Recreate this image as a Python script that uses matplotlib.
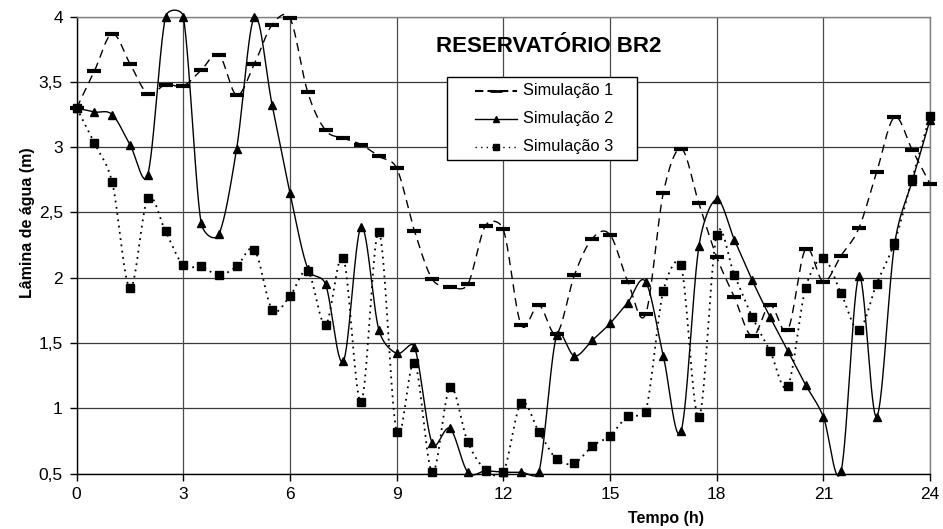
import numpy as np
import matplotlib
matplotlib.use("Agg")
import matplotlib.pyplot as plt
from matplotlib.patches import Rectangle

plt.rcParams['font.family'] = ['Liberation Sans', 'DejaVu Sans']

hours = [0, 0.5, 1, 1.5, 2, 2.5, 3, 3.5, 4, 4.5, 5, 5.5, 6, 6.5, 7, 7.5, 8, 8.5,
         9, 9.5, 10, 10.5, 11, 11.5, 12, 12.5, 13, 13.5, 14, 14.5, 15, 15.5, 16,
         16.5, 17, 17.5, 18, 18.5, 19, 19.5, 20, 20.5, 21, 21.5, 22, 22.5, 23,
         23.5, 24]

sim1 = [3.30, 3.585, 3.87, 3.64, 3.41, 3.48, 3.47, 3.59, 3.71, 3.40, 3.64, 3.94,
        3.99, 3.42, 3.13, 3.07, 3.02, 2.93, 2.84, 2.36, 1.99, 1.93, 1.95, 2.40,
        2.37, 1.64, 1.79, 1.57, 2.02, 2.30, 2.33, 1.97, 1.72, 2.65, 2.99, 2.57,
        2.16, 1.85, 1.55, 1.79, 1.60, 2.22, 1.97, 2.17, 2.38, 2.81, 3.23, 2.98,
        2.72]

sim2 = [3.30, 3.27, 3.25, 3.02, 2.79, 4.00, 4.00, 2.42, 2.335, 2.99, 4.00, 3.32,
        2.65, 2.07, 1.95, 1.36, 2.39, 1.60, 1.42, 1.47, 0.73, 0.845, 0.51, 0.52,
        0.51, 0.51, 0.51, 1.56, 1.40, 1.52, 1.65, 1.81, 1.97, 1.40, 0.825, 2.24,
        2.60, 2.29, 1.98, 1.70, 1.44, 1.18, 0.935, 0.52, 2.01, 0.935, 2.25, 2.74,
        3.21]

sim3 = [3.30, 3.03, 2.73, 1.92, 2.61, 2.355, 2.095, 2.087, 2.02, 2.087, 2.215,
        1.756, 1.86, 2.05, 1.64, 2.15, 1.05, 2.35, 0.82, 1.35, 0.51, 1.16, 0.74,
        0.53, 0.51, 1.04, 0.82, 0.61, 0.58, 0.71, 0.79, 0.94, 0.97, 1.90, 2.095,
        0.93, 2.33, 2.02, 1.70, 1.44, 1.17, 1.92, 2.15, 1.88, 1.60, 1.955, 2.27,
        2.76, 3.24]

labels = ["Simulação 1", "Simulação 2", "Simulação 3"]
x_ticks = [0, 3, 6, 9, 12, 15, 18, 21, 24]
y_ticks = [0.5, 1, 1.5, 2, 2.5, 3, 3.5, 4]
y_tick_labels = ["0,5", "1", "1,5", "2", "2,5", "3", "3,5", "4"]
title = "RESERVATÓRIO BR2"
xlabel = "Tempo (h)"
ylabel = "Lâmina de água (m)"


def excel_smooth(ax, x, y, n=30):
    """Excel-style smoothed line: Bezier segments with limited control vectors,
    computed in display (pixel) space and mapped back to data space."""
    trans = ax.transData
    p = trans.transform(np.column_stack([x, y]).astype(float))
    m = len(p)
    out = []
    for i in range(m - 1):
        p1 = p[i]
        p2 = p[i + 1]
        p0 = p[i - 1] if i > 0 else p[i]
        p3 = p[i + 2] if i + 2 < m else p[i + 1]
        d02 = np.hypot(*(p2 - p0))
        d12 = np.hypot(*(p2 - p1))
        d13 = np.hypot(*(p3 - p1))
        f = 1.0 / 6.0
        f1 = f if d02 / 6 < d12 / 2 else (d12 / 2 / d02 if d02 > 0 else 0)
        f2 = f if d13 / 6 < d12 / 2 else (d12 / 2 / d13 if d13 > 0 else 0)
        b1 = p1 + (p2 - p0) * f1
        b2 = p2 - (p3 - p1) * f2
        t = np.linspace(0, 1, n, endpoint=(i == m - 2))[:, None]
        seg = ((1 - t) ** 3) * p1 + 3 * ((1 - t) ** 2) * t * b1 + \
            3 * (1 - t) * t ** 2 * b2 + t ** 3 * p2
        out.append(seg)
    s = trans.inverted().transform(np.vstack(out))
    return s[:, 0], s[:, 1]


fig = plt.figure(figsize=(9.43, 5.29), dpi=100)
ax = fig.add_axes([0.0813, 0.1049, 0.9049, 0.8635])

ax.set_xlim(0, 24)
ax.set_ylim(0.5, 4)

for v in y_ticks:
    ax.axhline(v, color='#3a3a3a', lw=0.9, zorder=1)
for v in x_ticks:
    ax.axvline(v, color='#4a4a4a', lw=0.9, zorder=1)

styles = [
    dict(line=dict(lw=1.0, ls=(0, (6, 4))), mk=dict(marker='_', markersize=10, markeredgewidth=3.0)),
    dict(line=dict(lw=1.0, ls='-'), mk=dict(marker='^', markersize=6)),
    dict(line=dict(lw=1.3, ls=(0, (1, 2.5))), mk=dict(marker='s', markersize=5.5)),
]

for series, st in zip([sim1, sim2, sim3], styles):
    xs, ys = excel_smooth(ax, hours, series)
    ax.plot(xs, ys, color='black', clip_on=False, zorder=3, **st['line'])
    ax.plot(hours, series, ls='none', color='black', clip_on=False, zorder=4, **st['mk'])

ax.set_xticks(x_ticks)
ax.set_xticklabels([str(v) for v in x_ticks])
ax.set_yticks(y_ticks)
ax.set_yticklabels(y_tick_labels)
ax.tick_params(direction='out', length=5, width=1, labelsize=12.5, colors='black', pad=5)

for s in ['left', 'bottom']:
    ax.spines[s].set_color('black')
    ax.spines[s].set_linewidth(1.0)
for s in ['top', 'right']:
    ax.spines[s].set_color('#808080')
    ax.spines[s].set_linewidth(1.0)

# Legend drawn as a framed box in figure pixel layout
W, H = 943.0, 529.0
def fx(px):
    return px / W
def fy(py):
    return 1 - py / H

box = Rectangle((fx(447), fy(160)), fx(637) - fx(447), fy(77) - fy(160),
                transform=fig.transFigure, facecolor='white', edgecolor='black',
                lw=1.0, zorder=10)
fig.add_artist(box)
legend_styles = [
    dict(line=dict(lw=1.5, ls=(0, (4, 2))), mk=dict(marker='_', markersize=8, markeredgewidth=2.0)),
    dict(line=dict(lw=1.0, ls='-'), mk=dict(marker='^', markersize=5)),
    dict(line=dict(lw=1.0, ls=(0, (1, 3))), mk=dict(marker='s', markersize=4.5)),
]
for k, (lab, st) in enumerate(zip(labels, legend_styles)):
    yy = fy([90.7, 119.0, 146.7][k])
    fig.add_artist(plt.Line2D([fx(475), fx(517)], [yy, yy], transform=fig.transFigure,
                              color='black', zorder=11, **st['line']))
    fig.add_artist(plt.Line2D([fx(496)], [yy], transform=fig.transFigure,
                              color='black', ls='none', zorder=12, **st['mk']))
    fig.text(fx(523), yy, lab, ha='left', va='center', fontsize=11.8, zorder=12)

fig.text(0.582, 0.913, title, ha='center', va='center', fontsize=16, fontweight='bold')
fig.text(fx(666), fy(519), xlabel, ha='center', va='center', fontsize=11.5, fontweight='bold')
fig.text(fx(28), fy(223), ylabel, ha='center', va='center', rotation=90, fontsize=11.5, fontweight='bold')

fig.savefig('out.png', dpi=100, facecolor='white')
